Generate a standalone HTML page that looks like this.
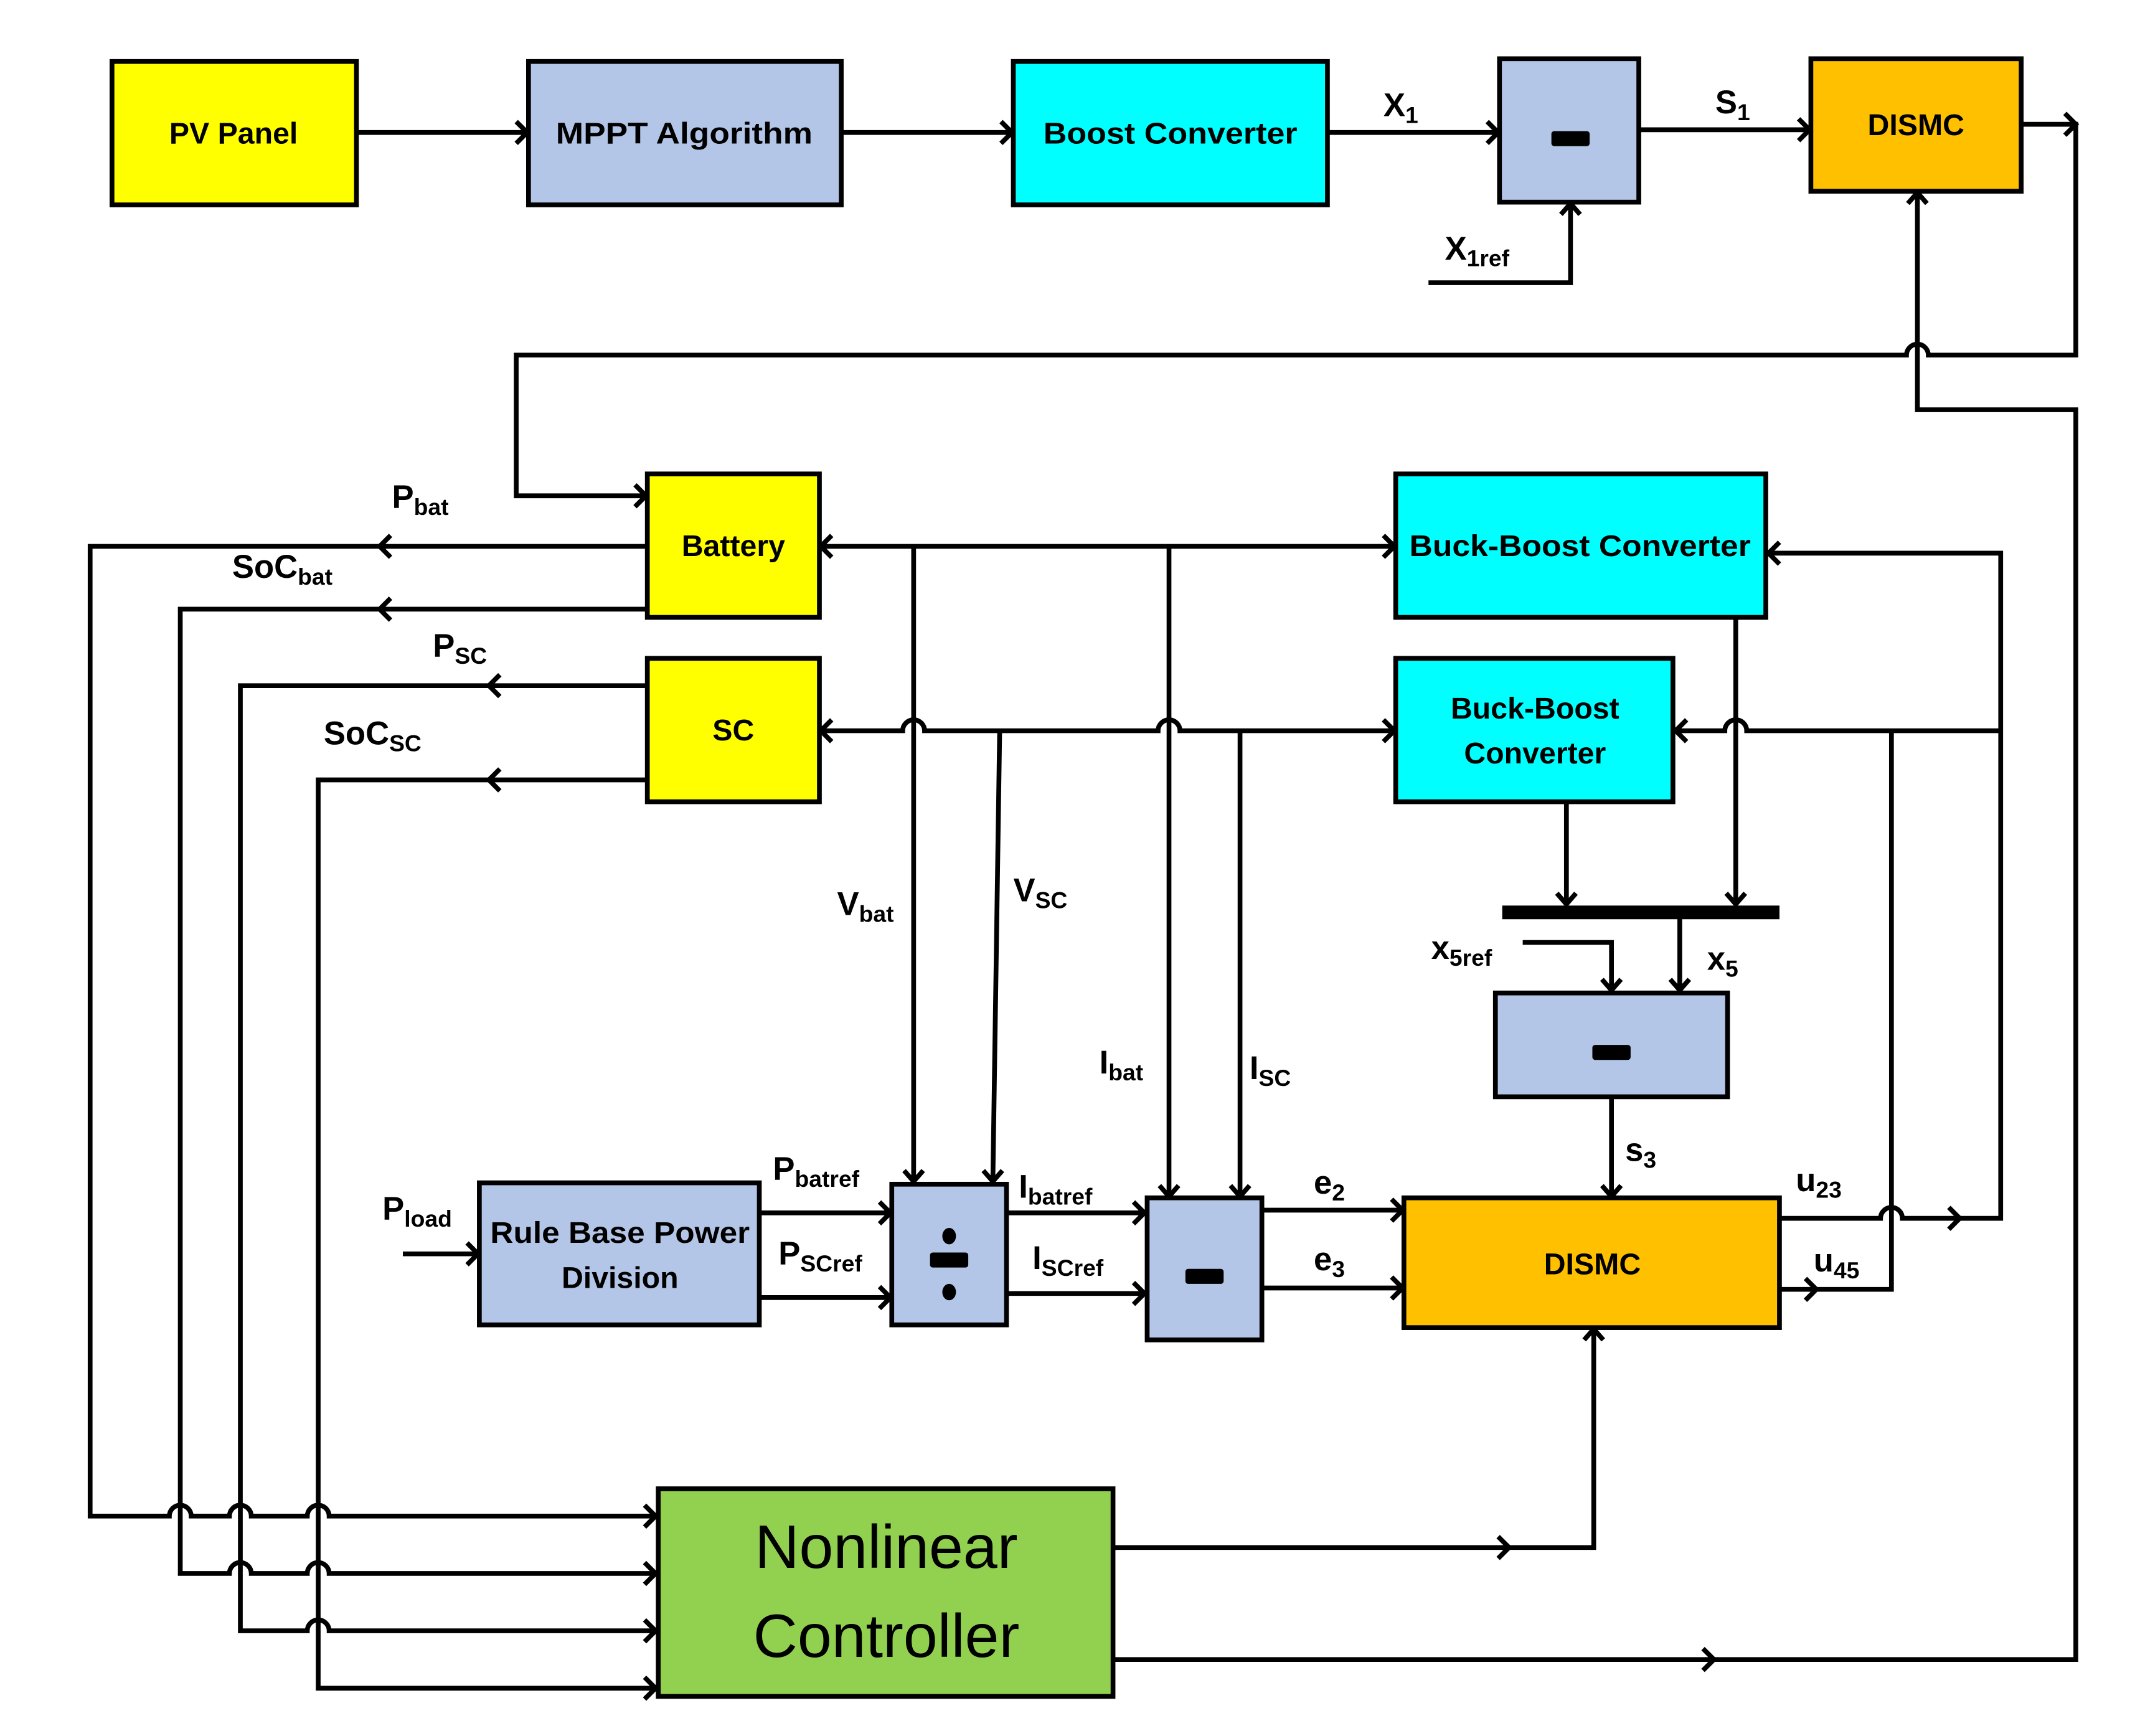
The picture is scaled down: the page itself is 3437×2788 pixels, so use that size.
<!DOCTYPE html>
<html><head><meta charset="utf-8"><style>
html,body{margin:0;padding:0;background:#fff;}
svg{display:block;}
text{font-family:"Liberation Sans",sans-serif;font-weight:bold;fill:#000;}
</style></head><body>
<svg width="3437" height="2788" viewBox="0 0 1567 1271" preserveAspectRatio="none" xmlns="http://www.w3.org/2000/svg">
<rect x="0" y="0" width="1567" height="1271" fill="#fff"/>
<g stroke="#000" stroke-width="3.5" fill="none" stroke-linejoin="miter">
<path d="M261,97 L386,97"/>
<path d="M616,97 L741,97"/>
<path d="M972,97 L1097,97"/>
<path d="M1200,95 L1325,95"/>
<path d="M1046,207 L1150,207 L1150,149"/>
<path d="M1480,91 L1520,91 L1520,260 L1412,260 A8 8 0 0 0 1396,260 L378,260 L378,363 L473,363"/>
<path d="M815,1215 L1520,1215 L1520,300 L1404,300 L1404,141"/>
<path d="M815,1133 L1167,1133 L1167,973"/>
<path d="M601,400 L1021,400"/>
<path d="M669,400 L669,865"/>
<path d="M856,400 L856,876"/>
<path d="M601,535 L661,535 A8 8 0 0 1 677,535 L848,535 A8 8 0 0 1 864,535 L1021,535"/>
<path d="M732,535 L727,865"/>
<path d="M908,535 L908,876"/>
<path d="M474,400 L66,400 L66,1110 L124,1110 A8 8 0 0 1 140,1110 L168,1110 A8 8 0 0 1 184,1110 L225,1110 A8 8 0 0 1 241,1110 L480,1110"/>
<path d="M474,446 L132,446 L132,1152 L168,1152 A8 8 0 0 1 184,1152 L225,1152 A8 8 0 0 1 241,1152 L480,1152"/>
<path d="M474,502 L176,502 L176,1194 L225,1194 A8 8 0 0 1 241,1194 L480,1194"/>
<path d="M474,571 L233,571 L233,1236 L480,1236"/>
<path d="M1303,892 L1377,892 A8 8 0 0 1 1393,892 L1465,892 L1465,405 L1295,405"/>
<path d="M1303,944 L1385,944 L1385,535"/>
<path d="M1465,535 L1279,535 A8 8 0 0 0 1263,535 L1227,535"/>
<path d="M1271,452 L1271,662"/>
<path d="M1147,587 L1147,662"/>
<path d="M1230,668 L1230,725"/>
<path d="M1115,690 L1180,690 L1180,725"/>
<path d="M1180,803 L1180,876"/>
<path d="M295,918 L350,918"/>
<path d="M556,888 L652,888"/>
<path d="M556,950 L652,950"/>
<path d="M737,888 L838,888"/>
<path d="M737,947 L838,947"/>
<path d="M924,886 L1027,886"/>
<path d="M924,943 L1027,943"/>
<path d="M378,89 L386,97 L378,105 M733,89 L741,97 L733,105 M1089,89 L1097,97 L1089,105 M1317,87 L1325,95 L1317,103 M1512,83 L1520,91 L1512,99"/>
<path d="M1143,157 L1150,149 L1157,157 M1397,149 L1404,141 L1411,149 M1160,981 L1167,973 L1174,981"/>
<path d="M465,355 L473,363 L465,371"/>
<path d="M609,392 L601,400 L609,408 M1013,392 L1021,400 L1013,408 M609,527 L601,535 L609,543 M1013,527 L1021,535 L1013,543"/>
<path d="M286,392 L278,400 L286,408 M286,438 L278,446 L286,454 M366,494 L358,502 L366,510 M366,563 L358,571 L366,579"/>
<path d="M472,1102 L480,1110 L472,1118 M472,1144 L480,1152 L472,1160 M472,1186 L480,1194 L472,1202 M472,1228 L480,1236 L472,1244"/>
<path d="M1097,1125 L1105,1133 L1097,1141 M1247,1207 L1255,1215 L1247,1223"/>
<path d="M1303,397 L1295,405 L1303,413 M1235,527 L1227,535 L1235,543 M1427,884 L1435,892 L1427,900 M1322,936 L1330,944 L1322,952"/>
<path d="M1264,654 L1271,662 L1278,654 M1140,654 L1147,662 L1154,654 M1223,717 L1230,725 L1237,717 M1173,717 L1180,725 L1187,717 M1173,868 L1180,876 L1187,868"/>
<path d="M342,910 L350,918 L342,926 M644,880 L652,888 L644,896 M644,942 L652,950 L644,958 M830,880 L838,888 L830,896 M830,939 L838,947 L830,955 M1019,878 L1027,886 L1019,894 M1019,935 L1027,943 L1019,951"/>
<path d="M662,857 L669,865 L676,857 M720,857 L727,865 L734,857 M849,868 L856,876 L863,868 M901,868 L908,876 L915,868"/>
</g>
<rect x="1100" y="663" width="203" height="10" fill="#000"/>
<g stroke="#000" stroke-width="3.5">
<rect x="82" y="45" width="179" height="105" fill="#FFFF00"/>
<rect x="387" y="45" width="229" height="105" fill="#B4C6E7"/>
<rect x="742" y="45" width="230" height="105" fill="#00FFFF"/>
<rect x="1098" y="43" width="102" height="105" fill="#B4C6E7"/>
<rect x="1326" y="43" width="154" height="97" fill="#FFC000"/>
<rect x="474" y="347" width="126" height="105" fill="#FFFF00"/>
<rect x="1022" y="347" width="271" height="105" fill="#00FFFF"/>
<rect x="474" y="482" width="126" height="105" fill="#FFFF00"/>
<rect x="1022" y="482" width="203" height="105" fill="#00FFFF"/>
<rect x="1095" y="727" width="170" height="76" fill="#B4C6E7"/>
<rect x="351" y="866" width="205" height="104" fill="#B4C6E7"/>
<rect x="653" y="867" width="84" height="103" fill="#B4C6E7"/>
<rect x="840" y="877" width="84" height="104" fill="#B4C6E7"/>
<rect x="1028" y="877" width="275" height="95" fill="#FFC000"/>
<rect x="482" y="1090" width="333" height="152" fill="#92D050"/>
</g>
<rect x="1136" y="96" width="28" height="11" rx="2" fill="#000"/>
<rect x="1166" y="765" width="28" height="11" rx="2" fill="#000"/>
<rect x="868" y="929" width="28" height="11" rx="2" fill="#000"/>
<rect x="681" y="917" width="28" height="11" rx="2" fill="#000"/>
<ellipse cx="695" cy="905" rx="5" ry="6" fill="#000"/>
<ellipse cx="695" cy="946" rx="5" ry="6" fill="#000"/>
<g font-size="22" text-anchor="middle">
<text x="171" y="105">PV Panel</text>
<text x="501" y="105" textLength="188" lengthAdjust="spacingAndGlyphs">MPPT Algorithm</text>
<text x="857" y="105" textLength="186" lengthAdjust="spacingAndGlyphs">Boost Converter</text>
<text x="1403" y="99">DISMC</text>
<text x="537" y="407">Battery</text>
<text x="1157" y="407" textLength="250" lengthAdjust="spacingAndGlyphs">Buck-Boost Converter</text>
<text x="537" y="542">SC</text>
<text x="1124" y="526">Buck-Boost</text>
<text x="1124" y="559">Converter</text>
<text x="454" y="910" textLength="190" lengthAdjust="spacingAndGlyphs">Rule Base Power</text>
<text x="454" y="943">Division</text>
<text x="1166" y="933">DISMC</text>
</g>
<g font-size="45" text-anchor="middle">
<text x="649" y="1148" style="font-weight:normal">Nonlinear</text>
<text x="649" y="1213" style="font-weight:normal">Controller</text>
</g>
<g font-size="24">
<text x="1013" y="85">X<tspan font-size="17" dy="5">1</tspan></text>
<text x="1256" y="83">S<tspan font-size="17" dy="5">1</tspan></text>
<text x="1058" y="190">X<tspan font-size="17" dy="5">1ref</tspan></text>
<text x="287" y="372">P<tspan font-size="17" dy="5">bat</tspan></text>
<text x="170" y="423">SoC<tspan font-size="17" dy="5">bat</tspan></text>
<text x="317" y="481">P<tspan font-size="17" dy="5">SC</tspan></text>
<text x="237" y="545">SoC<tspan font-size="17" dy="5">SC</tspan></text>
<text x="613" y="670">V<tspan font-size="17" dy="5">bat</tspan></text>
<text x="742" y="660">V<tspan font-size="17" dy="5">SC</tspan></text>
<text x="805" y="786">I<tspan font-size="17" dy="5">bat</tspan></text>
<text x="915" y="790">I<tspan font-size="17" dy="5">SC</tspan></text>
<text x="1048" y="702">x<tspan font-size="17" dy="5">5ref</tspan></text>
<text x="1250" y="710">x<tspan font-size="17" dy="5">5</tspan></text>
<text x="1190" y="850">s<tspan font-size="17" dy="5">3</tspan></text>
<text x="280" y="893">P<tspan font-size="17" dy="5">load</tspan></text>
<text x="566" y="864">P<tspan font-size="17" dy="5">batref</tspan></text>
<text x="570" y="926">P<tspan font-size="17" dy="5">SCref</tspan></text>
<text x="746" y="877">I<tspan font-size="17" dy="5">batref</tspan></text>
<text x="756" y="929">I<tspan font-size="17" dy="5">SCref</tspan></text>
<text x="962" y="874">e<tspan font-size="17" dy="5">2</tspan></text>
<text x="962" y="930">e<tspan font-size="17" dy="5">3</tspan></text>
<text x="1315" y="872">u<tspan font-size="17" dy="5">23</tspan></text>
<text x="1328" y="931">u<tspan font-size="17" dy="5">45</tspan></text>
</g>
</svg>
</body></html>
